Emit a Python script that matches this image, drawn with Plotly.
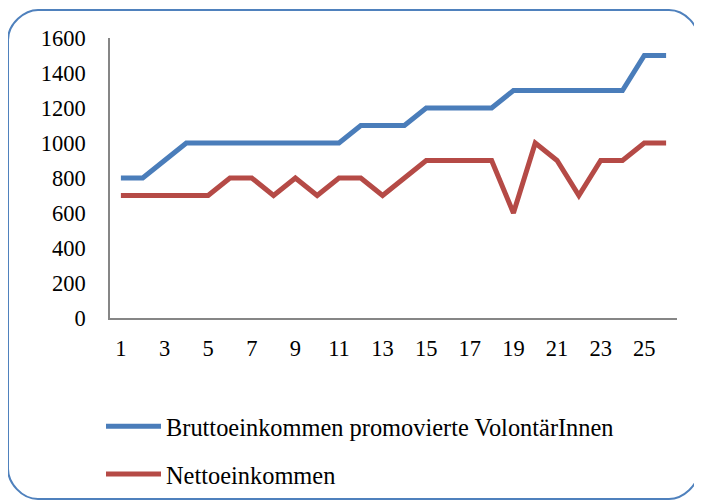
import plotly.graph_objects as go

x_vals = list(range(1, 27))
brutto = [800, 800, 900, 1000, 1000, 1000, 1000, 1000, 1000, 1000, 1000, 1100, 1100, 1100,
          1200, 1200, 1200, 1200, 1300, 1300, 1300, 1300, 1300, 1300, 1500, 1500]
netto = [700, 700, 700, 700, 700, 800, 800, 700, 800, 700, 800, 800, 700, 800,
         900, 900, 900, 900, 600, 1000, 900, 700, 900, 900, 1000, 1000]
x_tick_labels = [str(v) for v in range(1, 27, 2)]
y_ticks = list(range(0, 1601, 200))

series_names = ["Bruttoeinkommen promovierte VolontärInnen", "Nettoeinkommen"]
colors = ["#4A7DBA", "#B54A46"]

OFF = 8  # page body margin
W, H = 702, 502
L, T = 110 - OFF, 38 - OFF
R, B = W - (677 - OFF), H - (318 - OFF)
pw, ph = W - L - R, H - T - B

def px(x):
    return (x - OFF - L) / pw

def py(y):
    return (H - B - (y - OFF)) / ph

fig = go.Figure()
for i, (name, vals) in enumerate(zip(series_names, [brutto, netto])):
    fig.add_trace(go.Scatter(
        x=[str(v) for v in x_vals], y=vals, mode="lines", name=name,
        legendgroup=f"g{i}",
        line=dict(color=colors[i], width=5),
    ))

# rounded border
x0, x1, y0, y1 = px(8), px(699), py(10), py(499)
rx, ry = 30 / pw, 30 / ph
k = 0.45
path = (
    f"M{x0+rx},{y0} L{x1-rx},{y0} "
    f"C{x1-rx*k},{y0} {x1},{y0-ry*(1-k)} {x1},{y0-ry} "
    f"L{x1},{y1+ry} "
    f"C{x1},{y1+ry*k} {x1-rx*(1-k)},{y1} {x1-rx},{y1} "
    f"L{x0+rx},{y1} "
    f"C{x0+rx*k},{y1} {x0},{y1+ry*(1-k)} {x0},{y1+ry} "
    f"L{x0},{y0-ry} "
    f"C{x0},{y0-ry*k} {x0+rx*(1-k)},{y0} {x0+rx},{y0} Z"
)

fig.update_layout(
    width=W, height=H,
    margin=dict(l=L, r=R, t=T, b=B),
    paper_bgcolor="white", plot_bgcolor="white",
    font=dict(family="Liberation Serif, Times New Roman, serif", size=22.5, color="#000000"),
    showlegend=True,
    legend=dict(
        x=px(101), y=py(404), xanchor="left", yanchor="top",
        traceorder="grouped", tracegroupgap=13,
        itemwidth=55,
        font=dict(size=24.4),
        bgcolor="rgba(0,0,0,0)",
    ),
    shapes=[dict(type="path", xref="paper", yref="paper", path=path,
                 line=dict(color="#4F81BD", width=2), fillcolor="rgba(0,0,0,0)",
                 layer="below")],
    xaxis=dict(
        type="category", range=[-0.5, 25.5],
        tickmode="array", tickvals=x_tick_labels, ticktext=x_tick_labels,
        showgrid=False, showline=True, linecolor="#868686", linewidth=1.5,
        ticks="", ticklabelstandoff=9, zeroline=False,
    ),
    yaxis=dict(
        range=[0, 1600], tickvals=y_ticks,
        showgrid=False, showline=True, linecolor="#868686", linewidth=1.5,
        ticks="", ticklabelstandoff=18, zeroline=False,
    ),
)

fig.write_html("out.html")
